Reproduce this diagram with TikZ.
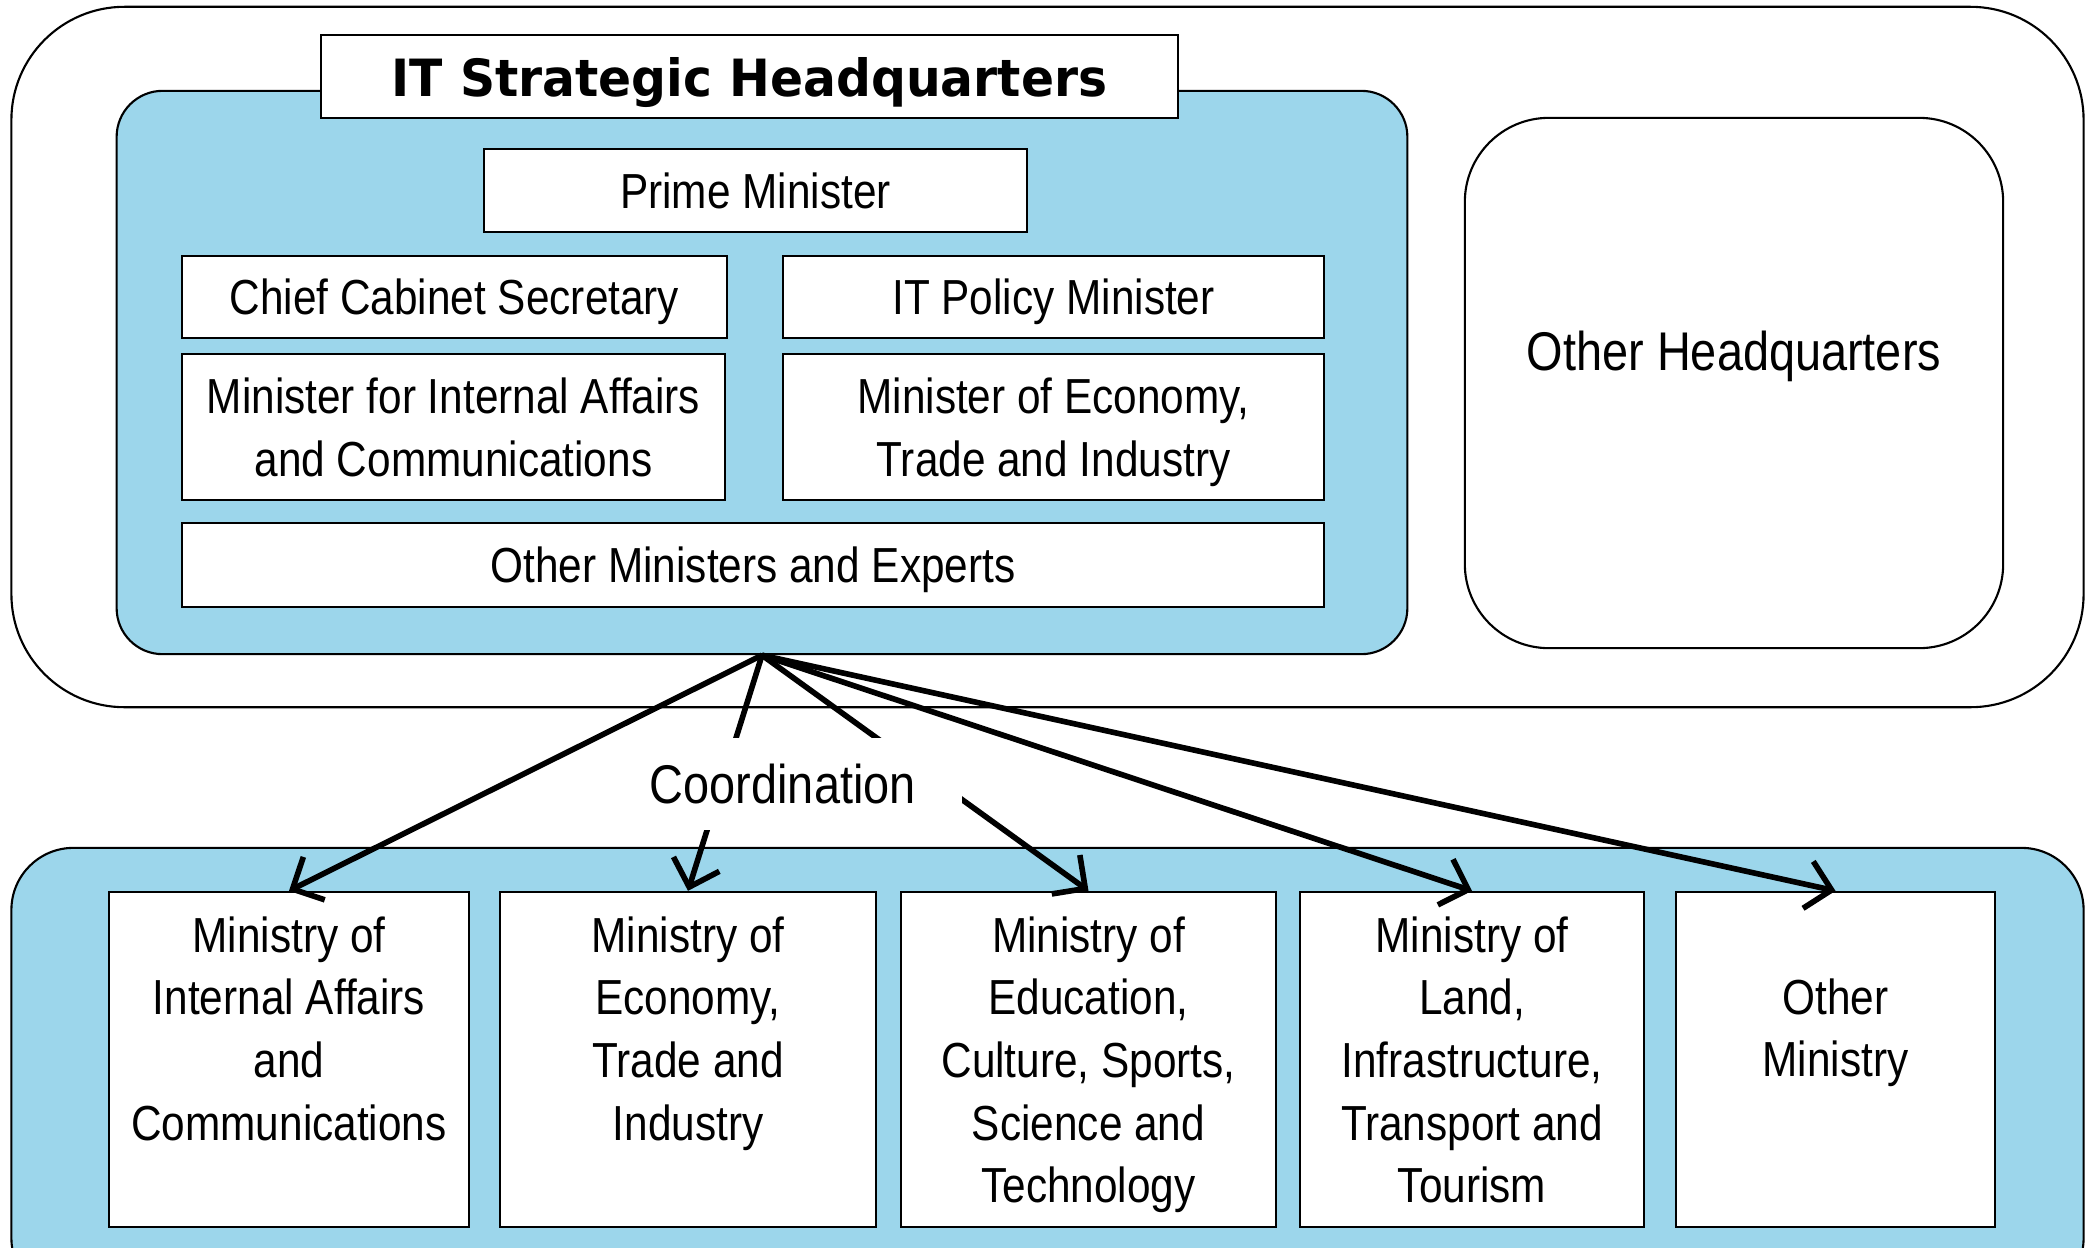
\documentclass[tikz,border=0pt]{standalone}
\usepackage{fontspec}
\setmainfont{Liberation Sans}[FakeStretch=0.86]
\newfontfamily\titlefont{DejaVu Sans}[FakeStretch=0.95]
\usetikzlibrary{arrows.meta}
\definecolor{hqblue}{RGB}{156,214,235}
\tikzset{
  panel/.style={draw=black,line width=0.6pt,rounded corners=#1,inner sep=0pt},
  member/.style={draw=black,fill=white,line width=0.6pt,inner sep=0pt,align=center,
    text depth=0pt,font=\fontsize{14pt}{17.8pt}\selectfont},
  ministry/.style={draw=black,fill=white,line width=0.6pt,inner sep=0pt,
    minimum height=3.35cm},
  mtext/.style={inner sep=0pt,align=center,anchor=north,font=\fontsize{14pt}{17.8pt}\selectfont},
  coord/.style={-{Straight Barb[length=2.4mm,width=4.8mm]},line width=1.6pt}
}
\begin{document}
\begin{tikzpicture}[x=0.01cm,y=-0.01cm]
\useasboundingbox (0,0) rectangle (2087,1248);
\clip (0,0) rectangle (2087,1248);

\node[panel=1.13cm,fill=white,minimum width=20.71cm,minimum height=7.00cm] (outer) at (1047.5,357) {};
\node[panel=0.46cm,fill=hqblue,minimum width=12.90cm,minimum height=5.63cm] (itsh) at (762,372.5) {};
\node[member,minimum width=8.57cm,minimum height=0.83cm,font=\titlefont\bfseries\fontsize{14.6pt}{17pt}\selectfont] (title) at (749.5,76.5) {IT Strategic Headquarters};
\node[member,minimum width=5.43cm,minimum height=0.83cm] (pm) at (755.5,190.5) {Prime Minister};
\node[member,minimum width=5.45cm,minimum height=0.82cm] (ccs) at (454.5,297) {Chief Cabinet Secretary};
\node[member,minimum width=5.41cm,minimum height=0.82cm] (itpm) at (1053.5,297) {IT Policy Minister};
\node[member,minimum width=5.43cm,minimum height=1.46cm] (mic) at (453.5,427) {Minister for Internal Affairs\\and Communications};
\node[member,minimum width=5.41cm,minimum height=1.46cm] (meti) at (1053.5,427) {Minister of Economy,\\Trade and Industry};
\node[member,minimum width=11.42cm,minimum height=0.84cm] (ome) at (753,565) {Other Ministers and Experts};

\node[panel=0.84cm,fill=white,minimum width=5.38cm,minimum height=5.30cm] (ohq) at (1734,383) {};
\node[inner sep=0pt,text depth=0pt,font=\fontsize{15.5pt}{18pt}\selectfont] (ohqt) at ([yshift=0.32cm]ohq.center) {Other Headquarters};

\node[panel=0.62cm,fill=hqblue,minimum width=20.71cm,minimum height=4.52cm] (ministries) at (1047.5,1074) {};
\node[ministry,minimum width=3.60cm] (m1) at (289,1059.5) {};
\node[ministry,minimum width=3.76cm] (m2) at (688,1059.5) {};
\node[ministry,minimum width=3.75cm] (m3) at (1088.5,1059.5) {};
\node[ministry,minimum width=3.44cm] (m4) at (1472,1059.5) {};
\node[ministry,minimum width=3.19cm] (m5) at (1835.5,1059.5) {};
\node[mtext] (m1t) at ([yshift=-0.25cm]m1.north) {Ministry of\\Internal Affairs\\and\\Communications};
\node[mtext] (m2t) at ([yshift=-0.25cm]m2.north) {Ministry of\\Economy,\\Trade and\\Industry};
\node[mtext] (m3t) at ([yshift=-0.25cm]m3.north) {Ministry of\\Education,\\Culture, Sports,\\Science and\\Technology};
\node[mtext] (m4t) at ([yshift=-0.25cm]m4.north) {Ministry of\\Land,\\Infrastructure,\\Transport and\\Tourism};
\node[mtext] (m5t) at ([yshift=-0.87cm]m5.north) {Other\\Ministry};

\draw[coord] (itsh.south) -- (m1.north);
\draw[coord] (itsh.south) -- (m2.north);
\draw[coord] (itsh.south) -- (m3.north);
\draw[coord] (itsh.south) -- (m4.north);
\draw[coord] (itsh.south) -- (m5.north);

\node[fill=white,inner xsep=0.2cm,inner ysep=0pt,text width=2.92cm,align=left,minimum height=0.92cm,
  font=\fontsize{15.5pt}{18pt}\selectfont] (coordination) at (796,784) {Coordination};
\end{tikzpicture}
\end{document}
